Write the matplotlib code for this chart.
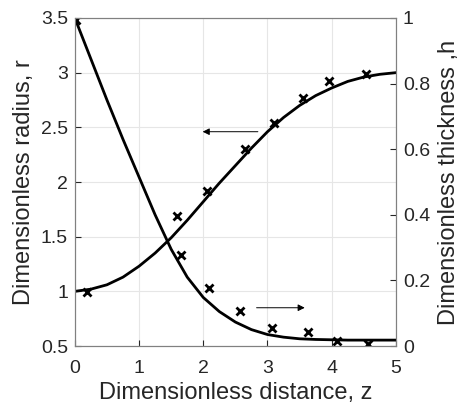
import numpy as np
import matplotlib
matplotlib.use('Agg')
import matplotlib.pyplot as plt

plt.rcParams['font.family'] = ['Liberation Sans', 'DejaVu Sans']

### Model curves
z_curve = [0, 0.25, 0.5, 0.75, 1.0, 1.25, 1.5, 1.75, 2.0, 2.25, 2.5, 2.75, 3.0, 3.25, 3.5, 3.75, 4.0, 4.25, 4.5, 4.75, 5.0]
r_curve = [1.0, 1.02, 1.06, 1.13, 1.23, 1.35, 1.49, 1.65, 1.82, 1.99, 2.15, 2.31, 2.46, 2.59, 2.70, 2.79, 2.86, 2.92, 2.96, 2.985, 3.0]
h_curve = [1.0, 0.875, 0.75, 0.63, 0.515, 0.40, 0.295, 0.21, 0.148, 0.105, 0.073, 0.05, 0.035, 0.027, 0.022, 0.02, 0.019, 0.018, 0.018, 0.018, 0.018]

### Measured points
z_r = [0.19, 1.59, 2.06, 2.65, 3.10, 3.55, 3.96, 4.53]
r_pts = [0.99, 1.69, 1.92, 2.30, 2.54, 2.77, 2.92, 2.99]
z_h = [0.02, 1.65, 2.09, 2.57, 3.07, 3.63, 4.08, 4.56]
h_pts = [0.995, 0.277, 0.177, 0.107, 0.055, 0.043, 0.015, 0.006]

txt = '#262626'
fig = plt.figure(figsize=(4.62, 4.09), dpi=100)
ax = fig.add_axes([0.162, 0.154, 0.695, 0.802])
ax2 = ax.twinx()

ax.plot(z_curve, r_curve, color='k', lw=2)
ax.plot(z_r, r_pts, 'x', color='k', ms=6, mew=2)
ax2.plot(z_curve, h_curve, color='k', lw=2)
ax2.plot(z_h, h_pts, 'x', color='k', ms=6, mew=2)

ax.set_xlim(0, 5)
ax.set_ylim(0.5, 3.5)
ax2.set_ylim(0, 1)
ax.set_xticks([0, 1, 2, 3, 4, 5])
ax.set_yticks([0.5, 1, 1.5, 2, 2.5, 3, 3.5])
ax.set_yticklabels(['0.5', '1', '1.5', '2', '2.5', '3', '3.5'])
ax2.set_yticks([0, 0.2, 0.4, 0.6, 0.8, 1])
ax2.set_yticklabels(['0', '0.2', '0.4', '0.6', '0.8', '1'])
ax.grid(True, color='#e6e6e6', lw=0.8)
ax.set_axisbelow(True)

for a in (ax, ax2):
    a.tick_params(direction='in', labelsize=14, colors=txt, length=4, pad=5)
    for s in a.spines.values():
        s.set_color('#808080')
ax.tick_params(axis='x', pad=10)

ax.set_xlabel('Dimensionless distance, z', fontsize=17, color=txt, labelpad=4)
ax.set_ylabel('Dimensionless radius, r', fontsize=17, color=txt, labelpad=4)
ax2.set_ylabel('Dimensionless thickness ,h', fontsize=17, color=txt, labelpad=6)

# arrows pointing to the curves
ax.annotate('', xy=(1.99, 2.46), xytext=(2.85, 2.46),
            arrowprops=dict(arrowstyle='-|>', color='k', lw=0.7,
                            mutation_scale=10, shrinkA=0, shrinkB=0))
ax.annotate('', xy=(3.58, 0.85), xytext=(2.83, 0.85),
            arrowprops=dict(arrowstyle='-|>', color='k', lw=0.7,
                            mutation_scale=10, shrinkA=0, shrinkB=0))

plt.savefig('out.png', dpi=100)
